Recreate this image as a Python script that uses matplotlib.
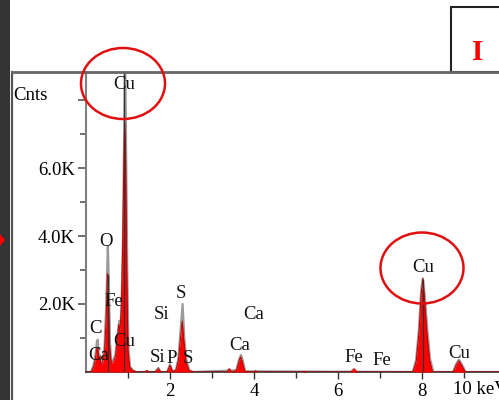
import matplotlib
matplotlib.use("Agg")
import matplotlib.pyplot as plt
from matplotlib.patches import Ellipse, Rectangle, Polygon
from matplotlib.lines import Line2D
from matplotlib.transforms import blended_transform_factory

plt.rcParams['font.family'] = ['Liberation Serif', 'DejaVu Serif']
plt.rcParams['hatch.color'] = '#9a9a9a'
plt.rcParams['hatch.linewidth'] = 0.8

# ---- data (energy in keV, counts in K) ----
red_kev = [0.0, 0.12, 0.18, 0.22, 0.26, 0.28, 0.30, 0.33, 0.36, 0.40, 0.44, 0.48, 0.51, 0.53, 0.56,
           0.60, 0.65, 0.70, 0.74, 0.78, 0.81, 0.84, 0.87, 0.90, 0.92, 0.94, 0.97, 1.00, 1.04, 1.10,
           1.20, 1.40, 1.45, 1.50, 1.65, 1.72, 1.78, 1.93, 2.00, 2.06, 2.14, 2.20, 2.25, 2.29, 2.33,
           2.38, 2.45, 2.55, 3.35, 3.41, 3.47, 3.58, 3.64, 3.68, 3.72, 3.78, 4.00, 4.04, 4.08, 5.15,
           5.20, 5.25, 6.30, 6.38, 6.46, 7.78, 7.86, 7.93, 7.98, 8.02, 8.06, 8.12, 8.18, 8.25, 8.74,
           8.82, 8.88, 8.94, 9.03, 9.83]
red_cnt = [0.0, 0.0, 0.15, 0.35, 0.70, 0.72, 0.40, 0.45, 0.20, 0.30, 0.60, 1.60, 2.90, 2.60, 0.80,
           0.25, 0.30, 0.45, 0.90, 1.40, 1.20, 1.90, 3.50, 6.10, 7.40, 6.60, 3.00, 0.60, 0.15, 0.05,
           0.0, 0.0, 0.05, 0.0, 0.0, 0.10, 0.0, 0.0, 0.20, 0.02, 0.05, 0.35, 1.00, 1.50, 0.90,
           0.30, 0.05, 0.0, 0.0, 0.10, 0.0, 0.05, 0.30, 0.45, 0.30, 0.02, 0.0, 0.04, 0.0, 0.0,
           0.02, 0.0, 0.0, 0.10, 0.0, 0.0, 0.30, 1.20, 2.30, 2.75, 2.10, 1.10, 0.35, 0.0, 0.0,
           0.22, 0.33, 0.20, 0.0, 0.0]

gray_kev = [0.0, 0.12, 0.18, 0.22, 0.26, 0.28, 0.30, 0.33, 0.36, 0.40, 0.44, 0.48, 0.52, 0.54, 0.57,
            0.60, 0.65, 0.70, 0.74, 0.79, 0.82, 0.85, 0.88, 0.91, 0.93, 0.95, 0.98, 1.01, 1.05, 1.12,
            1.20, 1.65, 1.72, 1.78, 1.93, 2.00, 2.06, 2.14, 2.20, 2.25, 2.30, 2.34, 2.39, 2.46, 2.56,
            3.58, 3.64, 3.69, 3.73, 3.79, 7.78, 7.86, 7.93, 7.98, 8.02, 8.07, 8.13, 8.19, 8.27, 8.74,
            8.82, 8.88, 8.95, 9.04, 9.83]
gray_cnt = [0.0, 0.0, 0.20, 0.45, 0.90, 0.95, 0.50, 0.50, 0.25, 0.35, 0.70, 1.90, 3.70, 2.80, 0.90,
            0.30, 0.35, 0.50, 1.00, 1.50, 1.30, 2.10, 4.00, 7.00, 9.50, 7.20, 3.20, 0.70, 0.15, 0.05,
            0.0, 0.0, 0.12, 0.0, 0.0, 0.22, 0.02, 0.05, 0.40, 1.20, 2.00, 1.00, 0.35, 0.05, 0.0,
            0.05, 0.35, 0.50, 0.35, 0.02, 0.0, 0.35, 1.30, 2.40, 2.75, 2.20, 1.20, 0.40, 0.0, 0.0,
            0.25, 0.36, 0.22, 0.0, 0.0]

marker_kev = [0.535, 0.915, 8.03]
marker_cnt = [2.85, 9.0, 2.70]

label_text = ["Cu", "O", "Fe", "C", "Ca", "Cu", "Si", "Si", "P", "S", "S", "Ca", "Ca", "Fe", "Fe", "Cu", "Cu"]
label_kev = [0.905, 0.476, 0.667, 0.238, 0.31, 0.905, 1.81, 1.71, 2.05, 2.43, 2.26, 4.0, 3.67, 6.38, 7.05, 8.02, 8.88]
label_cnt = [8.47, 3.85, 2.06, 1.29, 0.50, 0.91, 1.70, 0.44, 0.41, 0.41, 2.32, 1.70, 0.79, 0.44, 0.35, 3.06, 0.53]

ytick_vals = [2, 4, 6, 8]
ytick_labels = ["2.0K", "4.0K", "6.0K", ""]
xtick_vals = [2, 4, 6, 8]
xtick_labels = ["2", "4", "6", "8"]

# ---- figure ----
W, H = 499, 400
fig = plt.figure(figsize=(W / 100, H / 100), dpi=100)
fig.patch.set_facecolor('white')

def fx(px):
    return px / W

def fy(py):
    return 1 - py / H

ax = fig.add_axes([fx(86), fy(372), (499 - 86) / W, 300 / H])
ax.set_xlim(0, 413 / 42)
ax.set_ylim(0, 300 / 34)

ax.plot(gray_kev, gray_cnt, color='#9a9a9a', lw=1.6, zorder=2)
ax.fill_between(red_kev, red_cnt, 0, color='#ff0000', lw=0, zorder=3)
ax.plot(red_kev, red_cnt, color='#c00000', lw=0.7, zorder=3.5)
for e, c in zip(marker_kev, marker_cnt):
    ax.plot([e, e], [0, c], color='#333333', lw=0.9, zorder=4)

for t, e, c in zip(label_text, label_kev, label_cnt):
    ax.text(e, c, t, ha='center', va='center', fontsize=13.5, color='#111111', zorder=6)

for s in ['top', 'right']:
    ax.spines[s].set_visible(False)
ax.spines['left'].set_color('#808080')
ax.spines['left'].set_linewidth(1.5)
ax.spines['bottom'].set_color('#333333')
ax.spines['bottom'].set_linewidth(1.2)

ax.set_yticks(ytick_vals)
ax.set_yticklabels(ytick_labels)
ax.set_yticks([1, 3, 5, 7], minor=True)
ax.set_xticks(xtick_vals)
ax.set_xticklabels(xtick_labels)
ax.set_xticks([1, 3, 5, 7, 9], minor=True)
ax.tick_params(axis='y', which='major', length=6, width=1.2, color='#555555', pad=2, labelsize=13.5)
ax.tick_params(axis='y', which='minor', length=4, width=1.2, color='#555555')
ax.tick_params(axis='x', which='major', length=5, width=1.0, color='#333333', pad=3, labelsize=13.5)
ax.tick_params(axis='x', which='minor', length=4, width=1.0, color='#333333')

tr = blended_transform_factory(ax.transData, fig.transFigure)
ax.text(8.74, fy(390), "10 keV", transform=tr, ha='left', va='center', fontsize=13.5, clip_on=False)

fig.text(fx(13), fy(95), "Cnts", ha='left', va='center', fontsize=13.5)

# outer frame lines
fig.add_artist(Line2D([fx(12), fx(12)], [fy(72), fy(400)], color='#555555', lw=1.6))
fig.add_artist(Line2D([fx(12), fx(499)], [fy(72), fy(72)], color='#666666', lw=2.0))
# left textured strip (piece of micrograph)
fig.add_artist(Rectangle((0, 0), fx(10), 1, transform=fig.transFigure, facecolor='#333333',
                         edgecolor='#333333', hatch='xx..', lw=0))
fig.add_artist(Polygon([[0, fy(234)], [fx(5), fy(240)], [0, fy(246)]], closed=True,
                       transform=fig.transFigure, color='#ff0000', lw=0))
# top-right box
fig.add_artist(Rectangle((fx(450.5), fy(72)), fx(60), 65 / H, transform=fig.transFigure,
                         fill=False, edgecolor='#222222', lw=1.5))
fig.text(fx(478), fy(52), "I", ha='center', va='center', fontsize=21, fontweight='bold', color='#ff0000')

# red ellipses
fig.add_artist(Ellipse((fx(123), fy(83.5)), 84 / W, 71 / H, transform=fig.transFigure,
                       fill=False, edgecolor='#e01010', lw=1.8, zorder=10))
fig.add_artist(Ellipse((fx(422), fy(268)), 83 / W, 71 / H, transform=fig.transFigure,
                       fill=False, edgecolor='#e01010', lw=1.8, zorder=10))

fig.savefig("out.png", dpi=100)
